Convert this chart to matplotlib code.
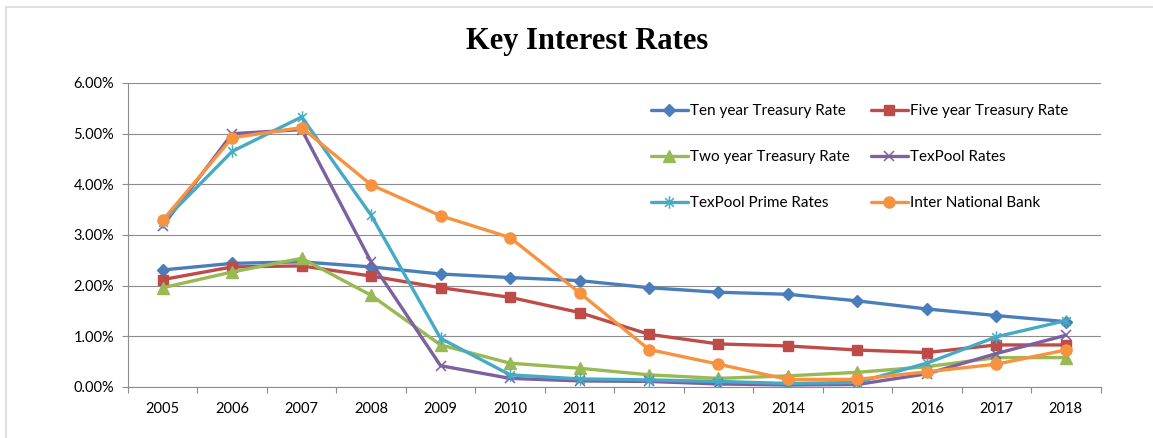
import matplotlib
matplotlib.use("Agg")
import matplotlib.pyplot as plt
from matplotlib.path import Path
from matplotlib.patches import Rectangle
from matplotlib.ticker import FixedLocator, NullFormatter, FuncFormatter

years = [2005, 2006, 2007, 2008, 2009, 2010, 2011, 2012, 2013, 2014, 2015, 2016, 2017, 2018]
ten_year = [2.31, 2.44, 2.47, 2.37, 2.23, 2.16, 2.10, 1.96, 1.87, 1.83, 1.70, 1.54, 1.41, 1.29]
five_year = [2.12, 2.37, 2.39, 2.19, 1.96, 1.77, 1.47, 1.04, 0.85, 0.81, 0.73, 0.68, 0.83, 0.83]
two_year = [1.96, 2.27, 2.54, 1.81, 0.83, 0.47, 0.37, 0.24, 0.17, 0.22, 0.29, 0.40, 0.58, 0.58]
texpool = [3.18, 5.00, 5.08, 2.47, 0.42, 0.17, 0.12, 0.11, 0.06, 0.04, 0.05, 0.26, 0.66, 1.02]
texpool_prime = [3.26, 4.65, 5.33, 3.39, 0.96, 0.24, 0.16, 0.14, 0.11, 0.07, 0.09, 0.47, 0.99, 1.31]
inter_national = [3.29, 4.92, 5.12, 3.99, 3.38, 2.95, 1.86, 0.74, 0.45, 0.15, 0.15, 0.30, 0.45, 0.73]
y_ticks = [0, 1, 2, 3, 4, 5, 6]

series = [
    ("Ten year Treasury Rate", ten_year, "#4A7EBB", "D", 6.5),
    ("Five year Treasury Rate", five_year, "#BE4B48", "s", 7),
    ("Two year Treasury Rate", two_year, "#98B954", "^", 8),
    ("TexPool Rates", texpool, "#7D60A0", "x", 7),
    ("TexPool Prime Rates", texpool_prime, "#46AAC5", "star", 9),
    ("Inter National Bank", inter_national, "#F69240", "o", 8),
]

star = Path([(-0.7, -0.7), (0.7, 0.7), (-0.7, 0.7), (0.7, -0.7), (0, -1), (0, 1)],
            [Path.MOVETO, Path.LINETO, Path.MOVETO, Path.LINETO, Path.MOVETO, Path.LINETO])

W, H = 1153, 438
fig = plt.figure(figsize=(W / 100, H / 100), dpi=100)
fig.patch.set_facecolor("white")
ax = fig.add_axes([128 / W, 1 - 387 / H, (1100.5 - 128) / W, (387 - 83) / H])

handles = []
for label, vals, color, mk, ms in series:
    marker = star if mk == "star" else mk
    thin = mk in ("x", "star")
    h, = ax.plot(years, vals, color=color, lw=2.4, marker=marker, ms=ms,
                 mec=color, mfc=color, mew=1.1 if thin else 1, label=label,
                 solid_capstyle="round", solid_joinstyle="round")
    handles.append(h)

ax.set_xlim(2004.5, 2018.5)
ax.set_ylim(0, 6)
ax.yaxis.set_major_locator(FixedLocator(y_ticks))
ax.yaxis.set_major_formatter(FuncFormatter(lambda v, p: f"{v:.2f}%"))
ax.grid(axis="y", color="#8C8C8C", lw=0.8)
ax.set_axisbelow(True)

ax.xaxis.set_major_locator(FixedLocator([y + 0.5 for y in range(2004, 2019)]))
ax.xaxis.set_major_formatter(NullFormatter())
ax.xaxis.set_minor_locator(FixedLocator(years))
ax.xaxis.set_minor_formatter(FuncFormatter(lambda v, p: f"{int(round(v))}"))
ax.tick_params(axis="x", which="major", length=4, color="#8C8C8C", width=0.8)
ax.tick_params(axis="x", which="minor", length=0, pad=11, labelsize=10.5,
               labelfontfamily="Lato")
ax.tick_params(axis="y", which="major", length=4, color="#8C8C8C", width=0.8,
               pad=6, labelsize=10.5, labelfontfamily="Lato")

for s in ("top", "right"):
    ax.spines[s].set_visible(False)
for s in ("left", "bottom"):
    ax.spines[s].set_color("#8C8C8C")
    ax.spines[s].set_linewidth(0.8)

fig.text(587 / W, 1 - 41 / H, "Key Interest Rates", ha="center", va="center",
         fontsize=22, fontweight="bold", family="Liberation Serif")

order = [0, 2, 4, 1, 3, 5]
leg = ax.legend([handles[i] for i in order], [series[i][0] for i in order],
                ncol=2, loc="upper left", bbox_to_anchor=(651 / W, 1 - 104 / H),
                bbox_transform=fig.transFigure, frameon=False,
                prop={"family": "Lato", "size": 11}, handlelength=2.4,
                handletextpad=0.15, columnspacing=1.4, labelspacing=2.1,
                borderpad=0, borderaxespad=0)

fig.add_artist(Rectangle((6 / W, -0.1), 1.2, 1 - 7 / H + 0.1, transform=fig.transFigure,
                         fill=False, edgecolor="#D9D9D9", lw=1.2))

fig.savefig("out.png", dpi=100, facecolor="white")
